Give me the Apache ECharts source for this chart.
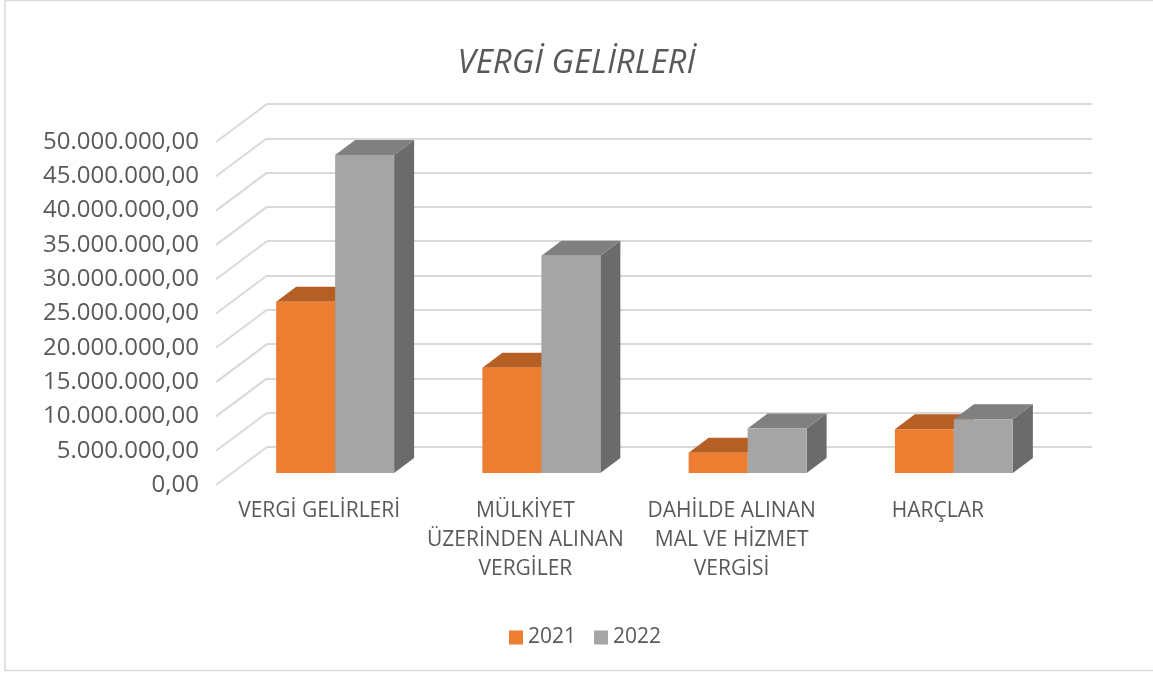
<!DOCTYPE html>
<html>
<head>
<meta charset="utf-8">
<script src="https://cdn.jsdelivr.net/npm/echarts@6/dist/echarts.min.js"></script>
<style>
  html, body { margin: 0; padding: 0; background: #fff; }
  #chart { width: 1153px; height: 675px; }
</style>
</head>
<body>
<div id="chart"></div>
<script>
// data
const categories = [
  'VERGİ GELİRLERİ',
  'MÜLKİYET\nÜZERİNDEN ALINAN\nVERGİLER',
  'DAHİLDE ALINAN\nMAL VE HİZMET\nVERGİSİ',
  'HARÇLAR'
]
const years = ['2021', '2022']
const values2021 = [24970000, 15350000, 2960000, 6370000]
const values2022 = [46350000, 31670000, 6500000, 7830000]
const yTicks = [0, 5000000, 10000000, 15000000, 20000000, 25000000, 30000000, 35000000, 40000000, 45000000, 50000000]

// 3d look
const DEPTH_X = 51, DEPTH_Y = 38   // back wall offset
const BAR_DX = 20, BAR_DY = 15     // bar depth
const BAR_FRAC = 0.286             // bar width / category band

const colors = {
  '2021': { front: '#ED7D31', top: '#B65F25', side: '#A4521C' },
  '2022': { front: '#A5A5A5', top: '#808080', side: '#6B6B6B' }
}

const fmt = v => String(v).replace(/\B(?=(\d{3})+(?!\d))/g, '.') + ',00'
const FONT = '"Open Sans", sans-serif'

const chart = echarts.init(document.getElementById('chart'))

const barSeries = (name, data, side) => ({
  name: name,
  type: 'custom',
  xAxisIndex: 2,
  yAxisIndex: 2,
  itemStyle: { color: colors[name].front },
  data: data.map((v, i) => [i, v]),
  z: 5,
  renderItem: (params, api) => {
    const c = api.coord([api.value(0), api.value(1)])
    const base = api.coord([api.value(0), 0])
    const w = api.size([1, 0])[0] * BAR_FRAC
    const x = side < 0 ? c[0] - w : c[0]
    const yt = c[1]
    const yb = base[1]
    const col = colors[name]
    return {
      type: 'group',
      children: [
        {
          type: 'polygon',
          shape: { points: [[x + w, yt], [x + w + BAR_DX, yt - BAR_DY], [x + w + BAR_DX, yb - BAR_DY], [x + w, yb]] },
          style: { fill: col.side }
        },
        {
          type: 'polygon',
          shape: { points: [[x, yt], [x + w, yt], [x + w + BAR_DX, yt - BAR_DY], [x + BAR_DX, yt - BAR_DY]] },
          style: { fill: col.top }
        },
        {
          type: 'rect',
          shape: { x: x, y: yt, width: w, height: yb - yt },
          style: { fill: col.front }
        }
      ]
    }
  }
})

const option = {
  backgroundColor: '#fff',
  animation: false,
  title: {
    text: 'VERGİ GELİRLERİ',
    left: 'center',
    top: 42,
    textStyle: { fontFamily: FONT, fontSize: 33, fontStyle: 'italic', fontWeight: 'normal', color: '#595959' }
  },
  legend: {
    data: years,
    left: 504,
    top: 622,
    icon: 'rect',
    itemWidth: 14,
    itemHeight: 14,
    itemGap: 18,
    textStyle: { fontFamily: FONT, fontSize: 21, color: '#595959' }
  },
  graphic: [{
    type: 'rect',
    shape: { x: 5, y: 0.5, width: 1200, height: 670 },
    style: { fill: 'none', stroke: '#d9d9d9', lineWidth: 1.5 },
    silent: true
  }],
  grid: [
    { left: 216, right: 112, top: 142, bottom: 190 },  // front plane
    { left: 267, right: 61, top: 104, bottom: 228 },   // back wall
    { left: 232, right: 96, top: 130, bottom: 202 }    // bars
  ],
  xAxis: [
    {
      gridIndex: 0, type: 'category', data: categories,
      axisLine: { show: false }, axisTick: { show: false },
      axisLabel: { interval: 0, margin: 12, fontFamily: FONT, fontSize: 21, lineHeight: 29, color: '#595959' }
    },
    { gridIndex: 1, type: 'category', data: categories, show: false },
    { gridIndex: 2, type: 'category', data: categories, show: false }
  ],
  yAxis: [
    {
      gridIndex: 0, type: 'value', min: 0, max: 50000000, interval: 5000000,
      splitLine: { show: false }, axisLine: { show: false }, axisTick: { show: false },
      axisLabel: { margin: 17, formatter: fmt, fontFamily: FONT, fontSize: 24, color: '#595959' }
    },
    {
      gridIndex: 1, type: 'value', min: 0, max: 50000000, interval: 5000000,
      axisLine: { show: false }, axisTick: { show: false }, axisLabel: { show: false },
      splitLine: { lineStyle: { color: '#d9d9d9', width: 2 } }
    },
    {
      gridIndex: 2, type: 'value', min: 0, max: 50000000, show: false, splitLine: { show: false }
    }
  ],
  series: [
    {
      name: 'wall',
      type: 'custom',
      xAxisIndex: 1,
      yAxisIndex: 1,
      silent: true,
      z: 1,
      data: yTicks.map(v => [0, v]),
      renderItem: (params, api) => {
        const p = api.coord([0, api.value(1)])
        const x0 = p[0] - api.size([1, 0])[0] / 2
        return {
          type: 'line',
          shape: { x1: x0 - DEPTH_X, y1: p[1] + DEPTH_Y, x2: x0, y2: p[1] },
          style: { stroke: '#d9d9d9', lineWidth: 2 }
        }
      }
    },
    barSeries('2021', values2021, -1),
    barSeries('2022', values2022, 1)
  ]
}

chart.setOption(option)
</script>
</body>
</html>
